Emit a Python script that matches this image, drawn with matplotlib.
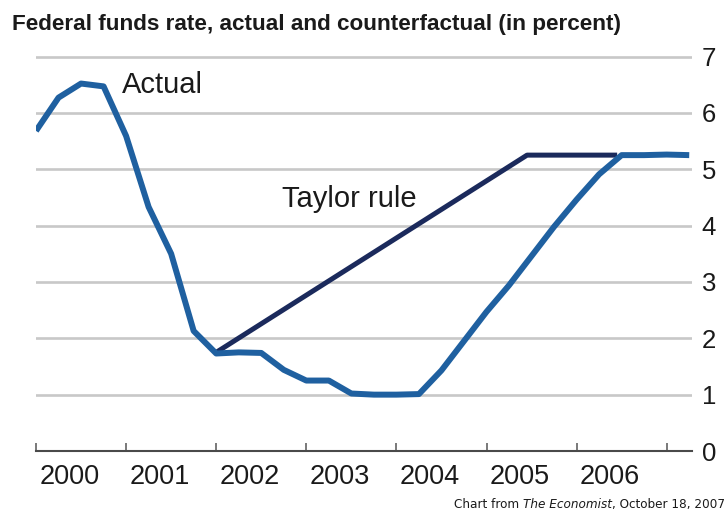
import matplotlib
matplotlib.use('Agg')
import matplotlib.pyplot as plt

# ---- data ----
quarters = ['2000Q1', '2000Q2', '2000Q3', '2000Q4',
            '2001Q1', '2001Q2', '2001Q3', '2001Q4',
            '2002Q1', '2002Q2', '2002Q3', '2002Q4',
            '2003Q1', '2003Q2', '2003Q3', '2003Q4',
            '2004Q1', '2004Q2', '2004Q3', '2004Q4',
            '2005Q1', '2005Q2', '2005Q3', '2005Q4',
            '2006Q1', '2006Q2', '2006Q3', '2006Q4',
            '2007Q1', '2007Q2']
actual = [5.68, 6.27, 6.52, 6.47,
          5.59, 4.33, 3.50, 2.13,
          1.73, 1.75, 1.74, 1.44,
          1.25, 1.25, 1.02, 1.00,
          1.00, 1.01, 1.43, 1.95,
          2.47, 2.94, 3.46, 3.98,
          4.46, 4.91, 5.25, 5.25,
          5.26, 5.25]
taylor_x = [2002.0, 2005.45, 2006.45]
taylor = [1.75, 5.25, 5.25]
year_ticks = [2000, 2001, 2002, 2003, 2004, 2005, 2006, 2007]
year_labels = ['2000', '2001', '2002', '2003', '2004', '2005', '2006']
y_ticks = [0, 1, 2, 3, 4, 5, 6, 7]

title = 'Federal funds rate, actual and counterfactual (in percent)'

def qpos(q):
    return int(q[:4]) + (int(q[-1]) - 1) * 0.25

actual_x = [qpos(q) for q in quarters]

plt.rcParams['font.family'] = ['Liberation Sans', 'DejaVu Sans']

W, H = 727, 511
fig = plt.figure(figsize=(W / 100, H / 100), dpi=100)
ax = fig.add_axes([36 / W, 60 / H, 656 / W, 394.5 / H])

ax.set_xlim(2000, 2000 + 656 / 90.1)
ax.set_ylim(0, 7)

ax.plot(taylor_x, taylor, color='#1b2a5c', lw=3.6, solid_joinstyle='round',
        solid_capstyle='butt', zorder=3)
ax.plot(actual_x, actual, color='#1f60a0', lw=4.3, solid_joinstyle='round',
        solid_capstyle='butt', zorder=4)

# grid
ax.set_yticks(y_ticks)
ax.yaxis.grid(True, color='#c8c8c8', lw=1.9)
ax.set_axisbelow(True)
ax.yaxis.tick_right()
ax.tick_params(axis='y', length=0, pad=7, labelsize=18.5, labelcolor='#1a1a1a')

# x axis
ax.set_xticks(year_ticks)
ax.set_xticklabels([''] * len(year_ticks))
ax.set_xticks([y + 0.37 for y in year_ticks[:-1]], minor=True)
ax.set_xticklabels(year_labels, minor=True)
ax.tick_params(axis='x', which='major', direction='in', length=5.8, width=1.1,
               color='#555555')
ax.tick_params(axis='x', which='minor', length=0, pad=9, labelsize=19.5,
               labelcolor='#1a1a1a')

for s in ['left', 'right', 'top']:
    ax.spines[s].set_visible(False)
ax.spines['bottom'].set_color('#4a4a4a')
ax.spines['bottom'].set_linewidth(1.5)
ax.spines['bottom'].set_zorder(5)

# series labels
ax.text(2000.95, 6.35, 'Actual', fontsize=21, color='#1a1a1a', va='baseline', ha='left')
ax.text(2002.73, 4.33, 'Taylor rule', fontsize=21, color='#1a1a1a', va='baseline', ha='left')

# title
fig.text(11.5 / W, 1 - 30 / H, title, fontsize=16.2, fontweight='bold',
         color='#1a1a1a', va='baseline', ha='left')

# source line
src_fam = ['Liberation Sans Narrow', 'DejaVu Sans']
parts = [('Chart from ', 'normal'), ('The Economist', 'italic'), (', October 18, 2007', 'normal')]
texts = [fig.text(0, 3 / H, p, fontsize=12, style=st, family=src_fam,
                  color='#1a1a1a', va='baseline', ha='left', stretch='condensed')
         for p, st in parts]
fig.canvas.draw()
r = fig.canvas.get_renderer()
total = sum(t.get_window_extent(r).width for t in texts)
scale = 272 / total
for t in texts:
    t.set_fontsize(12 * scale)
fig.canvas.draw()
widths = [t.get_window_extent(r).width for t in texts]
x = 725 - sum(widths)
for t, w in zip(texts, widths):
    t.set_x(x / W)
    x += w

fig.savefig('out.png', dpi=100)
